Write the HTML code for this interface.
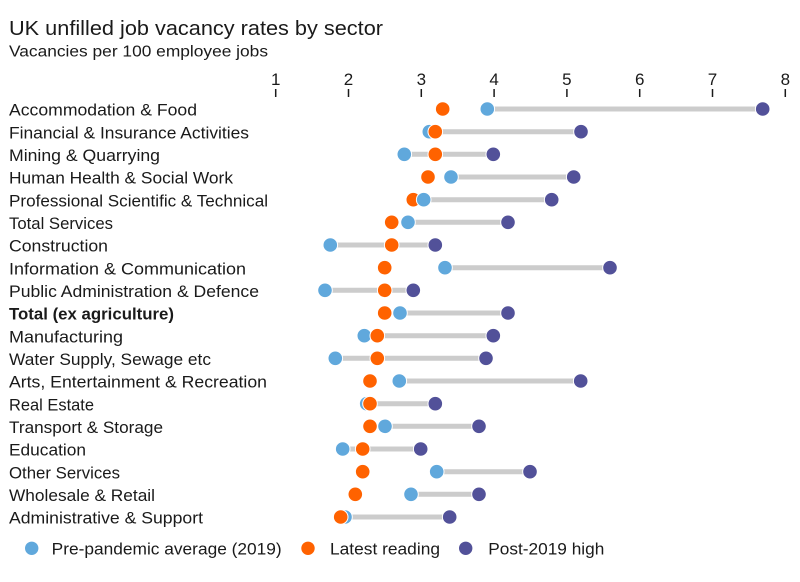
<!DOCTYPE html>
<html><head><meta charset="utf-8"><style>
html,body{margin:0;padding:0;background:#fff;}
svg{display:block;font-family:"Liberation Sans",sans-serif;}
</style></head><body>
<svg width="800" height="582" viewBox="0 0 800 582" xmlns="http://www.w3.org/2000/svg">
<rect width="800" height="582" fill="#fff"/>
<text x="9" y="35" font-size="20.5" fill="#1a1a1a" textLength="374" lengthAdjust="spacingAndGlyphs">UK unfilled job vacancy rates by sector</text>
<text x="9" y="56.5" font-size="15.5" fill="#1a1a1a" textLength="259" lengthAdjust="spacingAndGlyphs">Vacancies per 100 employee jobs</text>
<g font-size="17" fill="#1a1a1a" text-anchor="middle">
<text x="275.7" y="85">1</text><text x="348.5" y="85">2</text><text x="421.3" y="85">3</text><text x="494.1" y="85">4</text><text x="566.9" y="85">5</text><text x="639.7" y="85">6</text><text x="712.5" y="85">7</text><text x="785.3" y="85">8</text>
</g>
<g stroke="#1a1a1a" stroke-width="1.5">
<line x1="275.7" y1="89" x2="275.7" y2="97"/><line x1="348.5" y1="89" x2="348.5" y2="97"/><line x1="421.3" y1="89" x2="421.3" y2="97"/><line x1="494.1" y1="89" x2="494.1" y2="97"/><line x1="566.9" y1="89" x2="566.9" y2="97"/><line x1="639.7" y1="89" x2="639.7" y2="97"/><line x1="712.5" y1="89" x2="712.5" y2="97"/><line x1="785.3" y1="89" x2="785.3" y2="97"/>
</g>
<g font-size="16.5" fill="#1a1a1a">
<text x="9" y="115.7" textLength="188" lengthAdjust="spacingAndGlyphs">Accommodation &amp; Food</text>
<text x="9" y="138.4" textLength="240" lengthAdjust="spacingAndGlyphs">Financial &amp; Insurance Activities</text>
<text x="9" y="161.0" textLength="151" lengthAdjust="spacingAndGlyphs">Mining &amp; Quarrying</text>
<text x="9" y="183.7" textLength="224" lengthAdjust="spacingAndGlyphs">Human Health &amp; Social Work</text>
<text x="9" y="206.4" textLength="259" lengthAdjust="spacingAndGlyphs">Professional Scientific &amp; Technical</text>
<text x="9" y="229.0" textLength="104" lengthAdjust="spacingAndGlyphs">Total Services</text>
<text x="9" y="251.7" textLength="99" lengthAdjust="spacingAndGlyphs">Construction</text>
<text x="9" y="274.4" textLength="237" lengthAdjust="spacingAndGlyphs">Information &amp; Communication</text>
<text x="9" y="297.0" textLength="250" lengthAdjust="spacingAndGlyphs">Public Administration &amp; Defence</text>
<text x="9" y="319.7" textLength="165" lengthAdjust="spacingAndGlyphs" font-weight="bold">Total (ex agriculture)</text>
<text x="9" y="342.4" textLength="114" lengthAdjust="spacingAndGlyphs">Manufacturing</text>
<text x="9" y="365.0" textLength="202" lengthAdjust="spacingAndGlyphs">Water Supply, Sewage etc</text>
<text x="9" y="387.7" textLength="258" lengthAdjust="spacingAndGlyphs">Arts, Entertainment &amp; Recreation</text>
<text x="9" y="410.4" textLength="85" lengthAdjust="spacingAndGlyphs">Real Estate</text>
<text x="9" y="433.0" textLength="154" lengthAdjust="spacingAndGlyphs">Transport &amp; Storage</text>
<text x="9" y="455.7" textLength="77" lengthAdjust="spacingAndGlyphs">Education</text>
<text x="9" y="478.4" textLength="111" lengthAdjust="spacingAndGlyphs">Other Services</text>
<text x="9" y="501.0" textLength="146" lengthAdjust="spacingAndGlyphs">Wholesale &amp; Retail</text>
<text x="9" y="523.7" textLength="194" lengthAdjust="spacingAndGlyphs">Administrative &amp; Support</text>
</g>
<g stroke="#cccccc" stroke-width="5">
<line x1="487.3" y1="109" x2="762.7" y2="109"/>
<line x1="429.3" y1="131.7" x2="581" y2="131.7"/>
<line x1="404.3" y1="154.3" x2="493.3" y2="154.3"/>
<line x1="451" y1="177" x2="573.7" y2="177"/>
<line x1="423.7" y1="199.7" x2="551.7" y2="199.7"/>
<line x1="408" y1="222.3" x2="508" y2="222.3"/>
<line x1="330.3" y1="245" x2="435.3" y2="245"/>
<line x1="445" y1="267.7" x2="610" y2="267.7"/>
<line x1="325" y1="290.3" x2="413.3" y2="290.3"/>
<line x1="400" y1="313" x2="508" y2="313"/>
<line x1="364.3" y1="335.7" x2="493.3" y2="335.7"/>
<line x1="335.3" y1="358.3" x2="486" y2="358.3"/>
<line x1="399.3" y1="381" x2="580.7" y2="381"/>
<line x1="366.7" y1="403.7" x2="435.3" y2="403.7"/>
<line x1="385" y1="426.3" x2="479" y2="426.3"/>
<line x1="342.7" y1="449" x2="420.7" y2="449"/>
<line x1="436.7" y1="471.7" x2="530" y2="471.7"/>
<line x1="411" y1="494.3" x2="479" y2="494.3"/>
<line x1="345" y1="517" x2="449.7" y2="517"/>
</g>
<g stroke="#fff" stroke-width="1">
<!-- row 1 -->
<circle cx="487.3" cy="109" r="7.3" fill="#60a8dc"/><circle cx="442.7" cy="109" r="7.3" fill="#ff6200"/><circle cx="762.7" cy="109" r="7.3" fill="#525199"/>
<circle cx="429.3" cy="131.7" r="7.3" fill="#60a8dc"/><circle cx="435.3" cy="131.7" r="7.3" fill="#ff6200"/><circle cx="581" cy="131.7" r="7.3" fill="#525199"/>
<circle cx="404.3" cy="154.3" r="7.3" fill="#60a8dc"/><circle cx="435.3" cy="154.3" r="7.3" fill="#ff6200"/><circle cx="493.3" cy="154.3" r="7.3" fill="#525199"/>
<circle cx="451" cy="177" r="7.3" fill="#60a8dc"/><circle cx="428" cy="177" r="7.3" fill="#ff6200"/><circle cx="573.7" cy="177" r="7.3" fill="#525199"/>
<circle cx="413.3" cy="199.7" r="7.3" fill="#ff6200"/><circle cx="423.7" cy="199.7" r="7.3" fill="#60a8dc"/><circle cx="551.7" cy="199.7" r="7.3" fill="#525199"/>
<circle cx="408" cy="222.3" r="7.3" fill="#60a8dc"/><circle cx="391.7" cy="222.3" r="7.3" fill="#ff6200"/><circle cx="508" cy="222.3" r="7.3" fill="#525199"/>
<circle cx="330.3" cy="245" r="7.3" fill="#60a8dc"/><circle cx="391.7" cy="245" r="7.3" fill="#ff6200"/><circle cx="435.3" cy="245" r="7.3" fill="#525199"/>
<circle cx="445" cy="267.7" r="7.3" fill="#60a8dc"/><circle cx="384.7" cy="267.7" r="7.3" fill="#ff6200"/><circle cx="610" cy="267.7" r="7.3" fill="#525199"/>
<circle cx="325" cy="290.3" r="7.3" fill="#60a8dc"/><circle cx="384.7" cy="290.3" r="7.3" fill="#ff6200"/><circle cx="413.3" cy="290.3" r="7.3" fill="#525199"/>
<circle cx="400" cy="313" r="7.3" fill="#60a8dc"/><circle cx="384.7" cy="313" r="7.3" fill="#ff6200"/><circle cx="508" cy="313" r="7.3" fill="#525199"/>
<circle cx="364.3" cy="335.7" r="7.3" fill="#60a8dc"/><circle cx="377.3" cy="335.7" r="7.3" fill="#ff6200"/><circle cx="493.3" cy="335.7" r="7.3" fill="#525199"/>
<circle cx="335.3" cy="358.3" r="7.3" fill="#60a8dc"/><circle cx="377.3" cy="358.3" r="7.3" fill="#ff6200"/><circle cx="486" cy="358.3" r="7.3" fill="#525199"/>
<circle cx="399.3" cy="381" r="7.3" fill="#60a8dc"/><circle cx="370" cy="381" r="7.3" fill="#ff6200"/><circle cx="580.7" cy="381" r="7.3" fill="#525199"/>
<circle cx="366.7" cy="403.7" r="7.3" fill="#60a8dc"/><circle cx="370" cy="403.7" r="7.3" fill="#ff6200"/><circle cx="435.3" cy="403.7" r="7.3" fill="#525199"/>
<circle cx="370" cy="426.3" r="7.3" fill="#ff6200"/><circle cx="385" cy="426.3" r="7.3" fill="#60a8dc"/><circle cx="479" cy="426.3" r="7.3" fill="#525199"/>
<circle cx="342.7" cy="449" r="7.3" fill="#60a8dc"/><circle cx="362.7" cy="449" r="7.3" fill="#ff6200"/><circle cx="420.7" cy="449" r="7.3" fill="#525199"/>
<circle cx="436.7" cy="471.7" r="7.3" fill="#60a8dc"/><circle cx="362.7" cy="471.7" r="7.3" fill="#ff6200"/><circle cx="530" cy="471.7" r="7.3" fill="#525199"/>
<circle cx="411" cy="494.3" r="7.3" fill="#60a8dc"/><circle cx="355.3" cy="494.3" r="7.3" fill="#ff6200"/><circle cx="479" cy="494.3" r="7.3" fill="#525199"/>
<circle cx="345" cy="517" r="7.3" fill="#60a8dc"/><circle cx="340.7" cy="517" r="7.3" fill="#ff6200"/><circle cx="449.7" cy="517" r="7.3" fill="#525199"/>
</g>
<circle cx="31.7" cy="548.3" r="6.7" fill="#60a8dc"/>
<circle cx="308" cy="548.3" r="6.7" fill="#ff6200"/>
<circle cx="465.7" cy="548.3" r="6.7" fill="#525199"/>
<g font-size="16.5" fill="#1a1a1a">
<text x="51.7" y="554.3" textLength="230" lengthAdjust="spacingAndGlyphs">Pre-pandemic average (2019)</text>
<text x="330" y="554.3" textLength="110" lengthAdjust="spacingAndGlyphs">Latest reading</text>
<text x="488.3" y="554.3" textLength="116" lengthAdjust="spacingAndGlyphs">Post-2019 high</text>
</g>
</svg>
</body></html>
